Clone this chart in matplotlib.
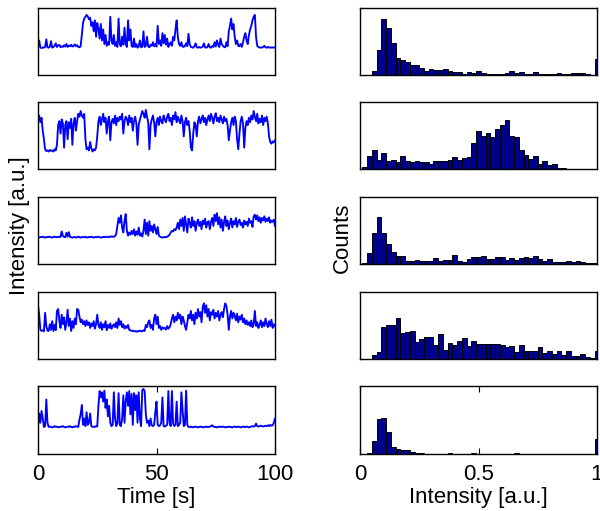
import numpy as np
import matplotlib
matplotlib.use("Agg")
import matplotlib.pyplot as plt

plt.rcParams['font.family'] = ['Liberation Sans', 'DejaVu Sans']

# ---------------- data ----------------
time_s = np.linspace(0, 100, 201)

# intensity traces in percent (0.5 s sampling)
trace1 = [12,30,10,9,11,10,12,33,11,10,13,28,10,12,15,22,12,16,18,11,
          14,12,17,13,20,12,16,14,18,13,15,19,14,17,12,11,14,45,78,90,
          95,100,96,88,92,70,80,55,85,40,78,62,35,75,30,60,20,45,15,25,
          18,95,30,20,45,15,25,12,90,20,14,40,18,65,20,12,85,30,60,15,
          12,35,12,20,10,14,30,11,13,55,12,15,40,13,11,18,15,25,14,20,
          13,70,20,30,15,50,22,45,18,35,12,20,25,15,40,30,60,85,40,20,
          15,25,13,12,15,22,14,48,20,12,11,10,14,22,11,10,12,10,11,13,
          22,11,10,12,20,11,10,15,12,25,13,30,18,12,35,20,15,12,11,25,
          14,55,70,90,60,75,40,20,30,15,14,20,12,25,40,50,30,20,45,60,
          70,85,95,100,40,15,12,10,11,10,12,15,11,10,12,10,11,10,11,10,11]
trace2 = [65,72,60,68,45,30,12,9,10,8,11,9,10,8,12,10,20,55,62,40,
          65,58,15,55,62,30,60,50,66,20,58,68,45,62,75,70,80,72,68,75,
          30,12,15,10,25,14,8,12,10,15,35,62,70,55,65,75,60,68,40,62,
          70,28,60,66,58,72,55,68,62,70,65,75,40,62,70,66,55,72,60,68,
          45,62,70,58,20,55,65,72,80,75,68,82,70,60,12,55,65,72,60,35,
          60,68,55,70,62,58,72,65,60,70,75,62,68,55,72,65,78,60,70,64,
          58,72,62,35,60,68,55,62,45,15,10,40,60,55,35,62,70,58,66,72,
          60,68,55,65,72,62,75,68,58,70,76,62,68,60,72,65,58,70,62,66,
          55,28,45,60,68,55,70,62,30,12,40,62,70,58,15,50,62,55,68,60,
          72,65,80,70,62,75,58,66,60,72,55,68,62,70,58,35,25,22,26,24,28]
trace3 = [10,9,11,10,12,10,9,11,10,12,11,10,9,11,12,10,11,10,12,11,
          28,14,11,10,24,12,26,11,10,9,
          10,11,9,10,12,10,9,11,10,10,12,9,10,11,10,12,10,9,11,10,
          11,12,10,9,10,11,10,12,11,10,12,11,13,12,11,14,
          20,45,70,55,78,40,25,60,82,30,15,25,18,30,20,35,15,28,18,40,
          15,22,12,30,65,20,55,15,60,30,45,25,50,35,20,42,15,12,10,9,
          10,11,10,12,14,18,25,30,28,35,32,40,55,35,65,45,70,30,75,50,
          25,68,55,40,72,45,60,30,55,65,45,58,35,62,50,68,40,55,60,35,
          58,70,45,80,60,85,50,72,40,65,30,58,75,45,62,35,55,68,40,60,
          50,70,42,58,65,48,55,40,62,50,58,45,68,55,60,42,75,80,65,78,
          60,72,55,70,62,75,58,68,60,72,55,62,58,65,45]
trace4 = [80,55,15,12,14,11,60,25,13,12,30,15,38,12,28,14,65,70,40,20,
          55,30,48,15,35,68,25,45,12,38,20,45,30,70,68,50,35,42,30,38,
          25,40,28,35,20,32,25,38,18,30,55,28,20,35,15,30,22,38,14,28,
          20,32,18,25,30,22,35,20,45,28,38,22,30,18,25,20,28,15,14,12,
          13,11,12,10,12,11,13,12,11,14,12,28,22,35,40,20,28,15,45,55,
          30,50,20,25,15,22,18,20,16,25,18,22,30,45,55,35,50,40,60,45,
          55,30,50,40,25,15,35,55,45,65,40,55,30,60,45,70,50,62,35,75,
          85,60,80,50,70,40,62,55,68,45,60,50,65,40,55,62,48,70,85,78,
          55,15,50,65,45,60,52,40,58,35,50,42,55,35,45,30,40,28,35,25,
          40,22,30,65,25,35,20,28,40,22,35,25,45,30,22,38,25,42,20,30,25]
trace5 = [12,42,20,48,30,10,12,75,20,10,
          11,10,9,10,12,10,11,9,10,10,11,12,10,9,10,11,10,12,10,9,11,10,12,11,10,
          28,40,62,15,30,12,45,15,20,42,12,10,11,10,12,11,
          60,95,80,92,70,96,55,75,35,60,20,12,15,92,30,12,20,90,15,
          12,30,85,20,70,92,60,95,40,88,15,90,50,85,20,92,30,12,98,100,
          95,40,20,25,12,30,14,12,15,45,70,15,12,14,20,80,12,11,13,15,
          95,20,12,95,18,12,15,70,12,15,20,92,50,12,15,96,15,10,
          10,11,9,10,10,11,10,9,10,11,10,10,9,10,11,10,10,11,12,
          14,
          11,10,10,9,10,11,10,10,11,10,9,10,10,11,10,10,9,10,11,10,10,11,10,9,
          10,11,10,10,11,10,9,10,11,12,11,12,
          18,
          12,11,12,13,12,11,12,
          13,12,14,12,15,13,14,20,30]
traces = [trace1, trace2, trace3, trace4, trace5]
trace_ylims = [(-65, 119), (-23, 96), (-73, 135), (-62, 115), (-54, 107)]

# histogram counts, bin centres 0, 0.02, ..., 1
bin_centres = np.arange(51) * 0.02
hist1 = [0,0,0,12,75,170,143,97,50,45,40,29,29,22,13,18,15,14,19,11,
         10,8,4,10,5,11,6,3,2,2,2,6,12,6,8,4,3,8,2,3,
         3,3,6,3,3,6,5,5,2,1,48]
hist2 = [0,7,40,57,28,50,23,29,22,40,23,21,25,20,22,15,25,26,25,28,
         37,29,34,38,80,117,102,110,97,122,135,149,100,98,59,44,32,39,15,23,
         12,14,2,2,0,0,0,0,0,0,0]
hist3 = [0,2,34,95,141,93,61,35,24,25,10,10,12,9,9,9,18,10,11,12,
         26,10,6,14,21,21,23,15,15,21,21,13,19,13,17,20,17,23,16,8,
         15,7,7,7,8,6,9,6,3,2,3]
hist4 = [0,0,0,12,21,98,104,104,126,80,84,86,53,60,67,68,42,75,27,48,
         42,54,63,39,56,46,46,46,46,46,42,36,41,22,44,26,26,24,36,18,
         26,15,26,11,26,9,9,16,6,3,23]
hist5 = [0,0,4,40,104,107,67,22,14,12,12,6,3,3,1,1,1,1,1,2,
         1,1,1,1,2,1,1,1,1,1,1,1,1,2,1,1,1,1,1,1,
         1,1,1,1,1,1,1,1,1,1,46]
hists = [hist1, hist2, hist3, hist4, hist5]
hist_ylims = [(0, 203), (0, 205), (0, 203), (0, 205), (0, 204)]

time_ticks = [0, 50, 100]
time_ticklabels = ['0', '50', '100']
int_ticks = [0, 0.5, 1]
int_ticklabels = ['0', '0.5', '1']

# ---------------- layout ----------------
W, H = 600, 511
fig = plt.figure(figsize=(W / 100, H / 100), dpi=100)
rows_px = [(8, 75), (102, 169), (197, 264), (292, 359), (386, 454)]
left_px = (38, 275)
right_px = (360, 597)
FS = 16

def add_ax(xpx, ypx):
    return fig.add_axes([xpx[0] / W, 1 - ypx[1] / H,
                         (xpx[1] - xpx[0]) / W, (ypx[1] - ypx[0]) / H])

for i in range(5):
    last = (i == 4)
    # trace
    axl = add_ax(left_px, rows_px[i])
    axl.plot(time_s, np.array(traces[i]) / 100.0, color='#0000FF', lw=1.35)
    axl.set_xlim(0, 100)
    lo, hi = trace_ylims[i]
    axl.set_ylim(lo / 100.0, hi / 100.0)
    axl.set_yticks([])
    # histogram
    axr = add_ax(right_px, rows_px[i])
    axr.bar(bin_centres, hists[i], width=0.02, align='center',
            color='#00008F', edgecolor='black', linewidth=0.7)
    axr.set_xlim(0, 1)
    axr.set_ylim(*hist_ylims[i])
    axr.set_yticks([])
    for ax in (axl, axr):
        for s in ax.spines.values():
            s.set_linewidth(1.0)
            s.set_color('black')
    if last:
        axl.set_xticks(time_ticks)
        axl.set_xticklabels(time_ticklabels)
        axr.set_xticks(int_ticks)
        axr.set_xticklabels(int_ticklabels)
        for ax in (axl, axr):
            ax.tick_params(axis='x', direction='in', length=4, width=0.8,
                           top=True, bottom=True, labelsize=FS, pad=7)
        axl.set_xlabel('Time [s]', fontsize=FS, labelpad=2)
        axr.set_xlabel('Intensity [a.u.]', fontsize=FS, labelpad=2)
    else:
        axl.set_xticks([])
        axr.set_xticks([])

fig.text(20 / W, 1 - 226 / H, 'Intensity [a.u.]', rotation=90,
         ha='center', va='center', fontsize=FS)
fig.text(342 / W, 1 - 238 / H, 'Counts', rotation=90,
         ha='center', va='center', fontsize=FS)

fig.savefig('out.png', dpi=100)
